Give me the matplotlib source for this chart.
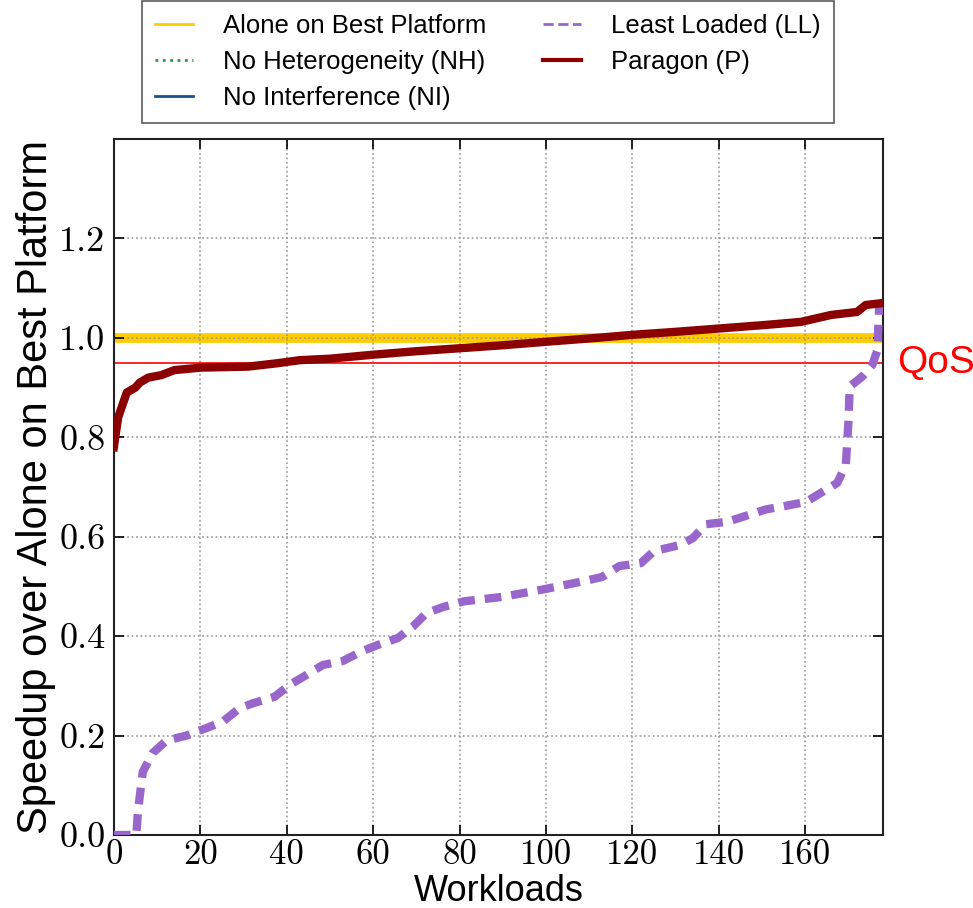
import matplotlib
matplotlib.use("Agg")
from matplotlib import pyplot as plt
from matplotlib.lines import Line2D
import matplotlib.transforms as mtransforms

# Paragon (P) curve
paragon_x = [0, 1, 3, 5, 6, 8, 11, 14, 20, 31, 38, 43, 50, 60, 70, 80, 90, 100, 112,
             120, 130, 139, 151, 159, 166, 172, 174, 178]
paragon_y = [0.78, 0.84, 0.89, 0.90, 0.91, 0.92, 0.925, 0.935, 0.94, 0.942, 0.949, 0.955,
             0.958, 0.966, 0.973, 0.979, 0.985, 0.992, 1.0, 1.006, 1.012, 1.018, 1.026,
             1.032, 1.046, 1.052, 1.066, 1.07]

# Least Loaded (LL) curve
ll_x = [0, 4, 5.2, 5.6, 6.7, 9, 12.2, 16.8, 21.4, 25.2, 29.1, 32.2, 37.2, 40.7, 44.6,
        48.4, 53, 57.3, 61, 65.7, 69.2, 72.3, 76, 81, 90, 100, 109, 113, 117, 122, 125,
        130.9, 134, 137, 142, 146.3, 151, 155.5, 160.2, 163.6, 167.4, 169.4, 169.7, 170.0,
        170.3, 173.2, 175.5, 176.7, 177.1, 178]
ll_y = [0.0, 0.0, 0.0, 0.05, 0.127, 0.165, 0.19, 0.2, 0.215, 0.228, 0.255, 0.265, 0.278,
        0.302, 0.322, 0.342, 0.35, 0.369, 0.382, 0.396, 0.419, 0.446, 0.458, 0.47, 0.479,
        0.495, 0.511, 0.519, 0.541, 0.547, 0.571, 0.583, 0.597, 0.625, 0.63, 0.642, 0.655,
        0.662, 0.67, 0.688, 0.708, 0.744, 0.788, 0.83, 0.902, 0.922, 0.945, 0.975, 1.06,
        1.07]

# flat references
alone_level = 1.0
qos_level = 0.95
nh_x, nh_y = [], []
ni_x, ni_y = [], []

labels = ["Alone on Best Platform", "No Heterogeneity (NH)", "No Interference (NI)",
          "Least Loaded (LL)", "Paragon (P)"]

x_ticks = [0, 20, 40, 60, 80, 100, 120, 140, 160]
y_ticks = [0.0, 0.2, 0.4, 0.6, 0.8, 1.0, 1.2]

c_alone = "#ffcc00"
c_nh = "#2ca02c"
c_ni = "#1f4e8c"
c_ll = "#9966cc"
c_p = "#8b0000"

plt.rcParams["font.family"] = ["Liberation Sans", "DejaVu Sans"]

fig = plt.figure(figsize=(9.73, 9.08), dpi=100)
ax = fig.add_axes([0.117, 0.0804, 0.7905, 0.7666])

ax.axhline(alone_level, color=c_alone, lw=7, zorder=1)
ax.plot(nh_x, nh_y, color=c_nh, ls=":", lw=2)
ax.plot(ni_x, ni_y, color=c_ni, lw=2)
ax.axhline(qos_level, color="red", lw=1.2, zorder=2)
ax.plot(ll_x, ll_y, color=c_ll, lw=6, dashes=(2, 1.2), zorder=3)
ax.plot(paragon_x, paragon_y, color=c_p, lw=6, zorder=4)

ax.grid(True, ls=":", color="#999999", lw=1.2)
for gl in ax.get_xgridlines() + ax.get_ygridlines():
    gl.set_zorder(1.5)

ax.set_xlim(0, 178)
ax.set_ylim(0, 1.4)
ax.set_xticks(x_ticks)
ax.set_yticks(y_ticks)
ax.set_xticklabels([str(t) for t in x_ticks], family="cmr10", fontsize=25)
ax.set_yticklabels(["%.1f" % t for t in y_ticks], family="cmr10", fontsize=26)
ax.tick_params(direction="in", length=7, width=1.2, top=True, right=True, pad=6)
ax.tick_params(axis="x", pad=3)
for s in ax.spines.values():
    s.set_linewidth(1.5)
    s.set_color("#222222")

ax.set_xlabel("Workloads", fontsize=26, va="baseline")
ax.xaxis.set_label_coords(0.5, -0.0945)
ax.set_ylabel("Speedup over Alone on Best Platform", fontsize=30, labelpad=2)

trans = mtransforms.blended_transform_factory(ax.transAxes, ax.transData)
ax.text(1.018, qos_level, "QoS", transform=trans, color="red", fontsize=28,
        va="center", ha="left")

handles = [
    Line2D([], [], color=c_alone, lw=2),
    Line2D([], [], color=c_nh, lw=2, ls=":"),
    Line2D([], [], color=c_ni, lw=2),
    Line2D([], [], color=c_ll, lw=2, ls="--"),
    Line2D([], [], color=c_p, lw=3),
]
leg = fig.legend(handles, labels, loc="upper center", bbox_to_anchor=(0.5015, 0.999),
                 borderaxespad=0, ncol=2, fontsize=18.5, frameon=True, fancybox=False,
                 edgecolor="#333333", handlelength=1.48, handletextpad=1.17,
                 columnspacing=2.2, labelspacing=0.47, borderpad=0.5)
leg.get_frame().set_linewidth(1.2)

fig.savefig("out.png", dpi=100)
